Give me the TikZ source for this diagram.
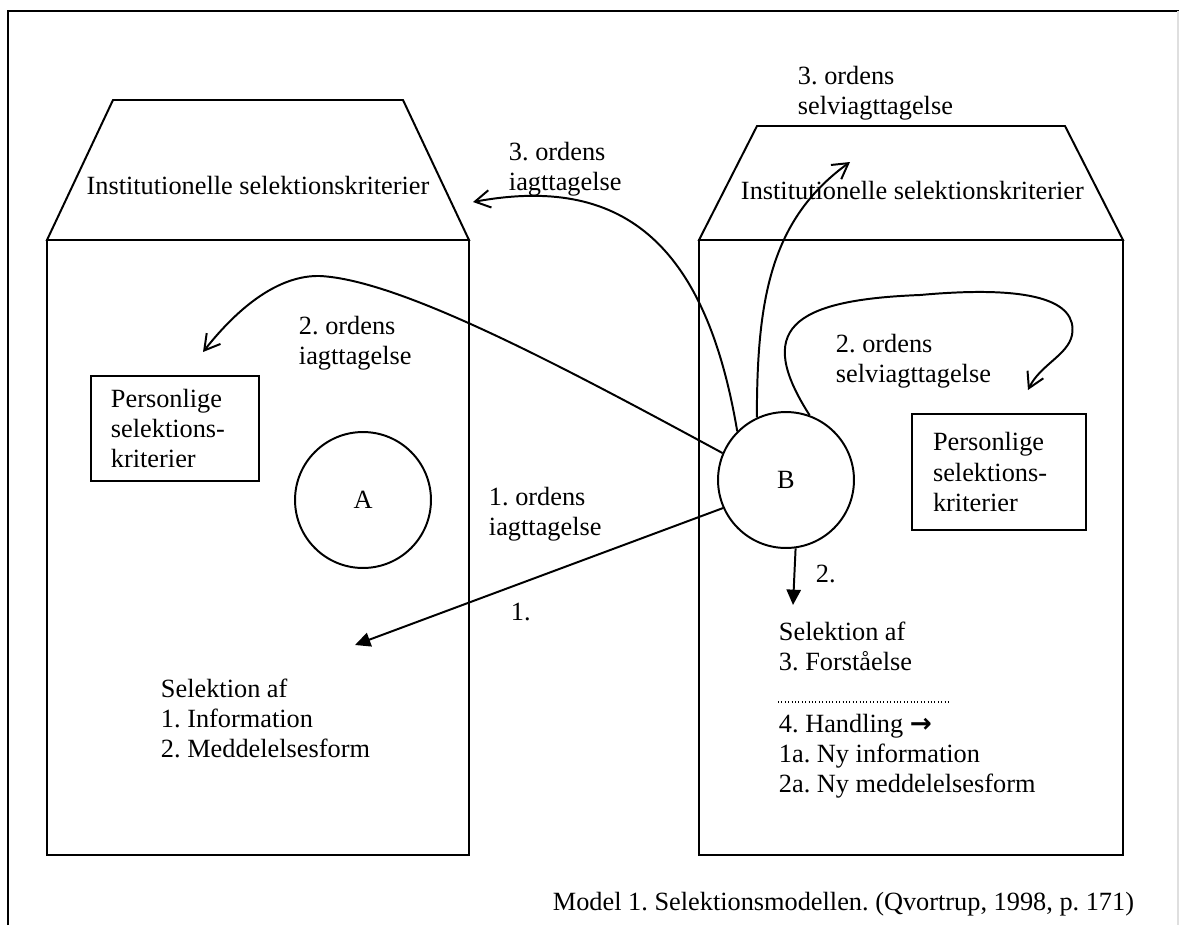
\documentclass[tikz,border=0pt]{standalone}
\usepackage{fontspec}
\setmainfont{Liberation Serif}
\newfontfamily\djv{DejaVu Sans}
\usetikzlibrary{arrows.meta}
\newcommand{\mlines}[1]{\begin{tabular}[t]{@{}l@{}}#1\end{tabular}}
\begin{document}
\frenchspacing
\begin{tikzpicture}[x=0.456pt,y=-0.456pt,line width=0.9pt,
  txt/.style={inner sep=0pt,anchor=base west,font=\fontsize{12}{13.8}\selectfont},
  ring/.style={circle,draw,minimum size=62pt,inner sep=0pt,font=\fontsize{12}{13.8}\selectfont},
  pbox/.style={draw,rectangle,anchor=north west,align=left,inner ysep=0pt,font=\fontsize{12}{13.8}\selectfont},
  openarr/.style={-{Straight Barb[angle=60:8pt]}},
  fillarr/.style={-{Triangle[length=7pt,width=6.5pt]}}]
\useasboundingbox (0,0) rectangle (1179,925);
% outer frame
\draw[line width=1.1pt] (8,925) -- (8,11) -- (1179,11);
\draw[gray!25,line width=0.6pt] (1178,11) -- (1178,925);
% left institution
\draw (113,100) -- (403,100) -- (469,240) -- (47,240) -- cycle;
\draw (47,240) rectangle (469,855);
% right institution
\draw (757,126) -- (1065,126) -- (1123,240) -- (699,240) -- cycle;
\draw (699,240) rectangle (1123,855);
\node[txt,anchor=base] (instL) at (258,194) {Institutionelle selektionskriterier};
\node[txt,anchor=base west] (instR) at (740,199) {Institutionelle selektionskriterier};
% circles
\node[ring] (A) at (363,500) {A};
\node[ring] (B) at (786,480) {B};
% personal boxes
\node[pbox,text width=58.4pt,inner xsep=9.1pt,minimum height=48pt] (pL) at (90,375) {Personlige\\selektions-\\kriterier};
\node[pbox,text width=60pt,inner xsep=9.6pt,minimum height=53pt] (pR) at (911,413) {Personlige\\selektions-\\kriterier};
% labels
\node[txt] (l3) at (508,160) {\mlines{3. ordens\\iagttagelse}};
\node[txt] (l3s) at (797,84) {\mlines{3. ordens\\selviagttagelse}};
\node[txt] (l2) at (298,334) {\mlines{2. ordens\\iagttagelse}};
\node[txt] (l2s) at (835,352) {\mlines{2. ordens\\selviagttagelse}};
\node[txt] (l1) at (488,505) {\mlines{1. ordens\\iagttagelse}};
\node[txt] (n1) at (510,620) {1.};
\node[txt] (n2) at (815,582) {2.};
\node[txt] (selL) at (160,697) {\mlines{Selektion af\\1. Information\\2. Meddelelsesform}};
\node[txt] (selR) at (778,640) {\mlines{Selektion af\\3. Forst\aa{}else}};
\node[txt] (hand) at (778,732) {\mlines{4. Handling {\djv\bfseries →}\\1a. Ny information\\2a. Ny meddelelsesform}};
\draw[line width=0.5pt,dash pattern=on 0.45pt off 1.1pt] (778,702) -- (950,702);
\node[txt,anchor=base east] (cap) at (1135,910) {Model 1. Selektionsmodellen. (Qvortrup, 1998, p. 171)};
% endpoints
\coordinate (t3) at (473,202);
\coordinate (t3s) at (850,162);
\coordinate (t2) at (203,352);
\coordinate (t2s) at (1028,390);
\coordinate (t1) at (355,645);
\coordinate (t2b) at (793,605);
% connectors
\draw[openarr] (B.135) .. controls (705,240) and (620,175) .. (t3);
\draw[openarr] (B.115) .. controls (757,300) and (770,220) .. (t3s);
\draw[openarr] (B.70) .. controls (755,330) and (790,300) .. (920,295) .. controls (1030,285) and (1078,300) .. (1072,335) .. controls (1068,355) and (1040,365) .. (t2s);
\draw[openarr] (B.157) .. controls (560,365) and (400,280) .. (320,276) .. controls (280,275) and (240,305) .. (t2);
\draw[fillarr] (B.204) -- (t1);
\draw[fillarr] (B.-82) -- (t2b);
\end{tikzpicture}
\end{document}
